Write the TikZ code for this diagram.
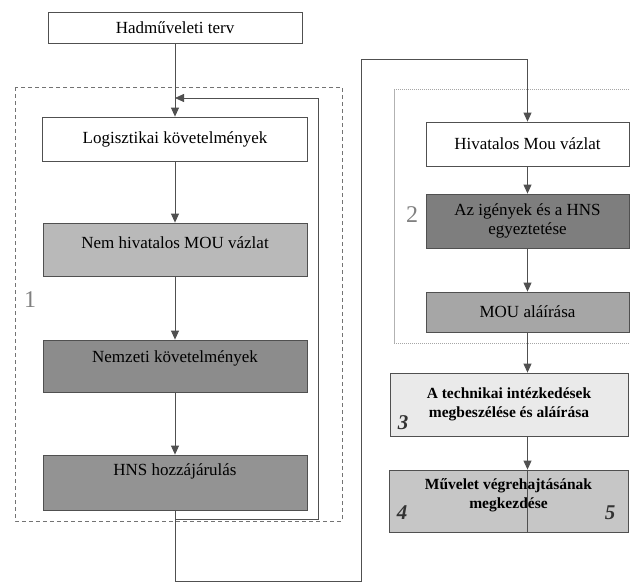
\documentclass[tikz,border=0pt]{standalone}
\usepackage{fontspec}
\setmainfont{Liberation Serif}
\usetikzlibrary{arrows.meta}
\definecolor{lnc}{HTML}{505050}
\definecolor{fA}{HTML}{B9B9B9}
\definecolor{fB}{HTML}{8C8C8C}
\definecolor{fC}{HTML}{939393}
\definecolor{fD}{HTML}{7E7E7E}
\definecolor{fE}{HTML}{A6A6A6}
\definecolor{fF}{HTML}{EAEAEA}
\definecolor{fG}{HTML}{C6C6C6}
\tikzset{
  box/.style={draw=lnc, line width=0.8pt, inner sep=2pt, align=center, font=\fontsize{17}{19}\selectfont},
  wbox/.style={box, fill=white},
  bbox/.style={box, font=\bfseries\fontsize{15.5}{19}\selectfont},
  arr/.style={draw=lnc, line width=0.8pt, -{Triangle[length=9pt,width=8pt]}},
  ln/.style={draw=lnc, line width=0.8pt},
  numlbl/.style={font=\fontsize{24}{26}\selectfont, text=gray},
  numbold/.style={font=\bfseries\itshape\fontsize{21}{23}\selectfont, text=black!80},
}
\begin{document}
\begin{tikzpicture}[x=1pt,y=-1pt]
\useasboundingbox (0,0) rectangle (630,584);
% frames
\draw[lnc!80, line width=0.6pt, dash pattern=on 4pt off 3pt] (15,87) rectangle (342,521);
\draw[gray!60, line width=0.6pt] (394,89) -- (394,343);
\draw[gray!70, line width=0.6pt, dash pattern=on 1pt off 1pt] (629,89) -- (394,89);
\draw[gray!70, line width=0.6pt, dash pattern=on 1pt off 1pt] (394,343) -- (629,343);
% left column
\node[wbox, minimum width=254pt, minimum height=31pt] (had) at (175,27.5) {Hadműveleti terv};
\node[wbox, minimum width=265pt, minimum height=44pt] (log) at (175,139) {Logisztikai követelmények};
\node[box, fill=fA, minimum width=264pt, minimum height=53pt, text depth=14pt] (nem) at (175,249.5) {Nem hivatalos MOU vázlat};
\node[box, fill=fB, minimum width=264pt, minimum height=52pt, text depth=18pt] (nemz) at (175,366) {Nemzeti követelmények};
\node[box, fill=fC, minimum width=264pt, minimum height=55pt, text depth=26pt] (hns) at (175,482.5) {HNS hozzájárulás};
% right column
\node[wbox, minimum width=203pt, minimum height=44pt] (hiv) at (527.5,144) {Hivatalos Mou vázlat};
\node[box, fill=fD, minimum width=203pt, minimum height=54pt] (sor) at (527.5,221) {Az igények és a HNS\\ egyeztetése};
\node[box, fill=fE, minimum width=203pt, minimum height=40pt] (mou) at (527.5,312) {MOU aláírása};
\node[bbox, fill=fF, minimum width=238pt, minimum height=63pt] (tech) at (509,404.5) {A technikai intézkedések\\ megbeszélése és aláírása};
\node[bbox, fill=fG, minimum width=239pt, minimum height=62pt, text depth=14pt] (muv) at (508.5,501) {Művelet végrehajtásának\\ megkezdése};
% numbers
\node[numlbl] (n1) at (30,300) {1};
\node[numlbl] (n2) at (412,215) {2};
\node[numbold] (n3) at (403,423) {3};
\node[numbold] (n4) at (402,513) {4};
\node[numbold] (n5) at (610,513) {5};
% connectors left
\draw[arr] (had) -- (log);
\draw[arr] (log) -- (nem);
\draw[arr] (nem) -- (nemz);
\draw[arr] (nemz) -- (hns);
\coordinate (fbA) at (175,519);
\coordinate (fbB) at (318,519);
\coordinate (fbC) at (318,98);
\coordinate (fbD) at (175,98);
\draw[arr] (hns.south) -- (fbA) -- (fbB) -- (fbC) -- (fbD);
% long connector
\coordinate (lA) at (175,581);
\coordinate (lB) at (361,581);
\coordinate (lC) at (361,59);
\coordinate (lD) at (527.5,59);
\draw[arr] (hns.south) -- (lA) -- (lB) -- (lC) -- (lD) -- (hiv.north);
% connectors right
\draw[arr] (hiv) -- (sor);
\draw[arr] (sor) -- (mou);
\draw[arr] (mou.south) -- (mou.south |- tech.north);
\draw[arr] (tech.south -| mou.south) -- (muv.north -| mou.south);
\draw[ln] (muv.north -| mou.south) -- (muv.south -| mou.south);
\end{tikzpicture}
\end{document}
